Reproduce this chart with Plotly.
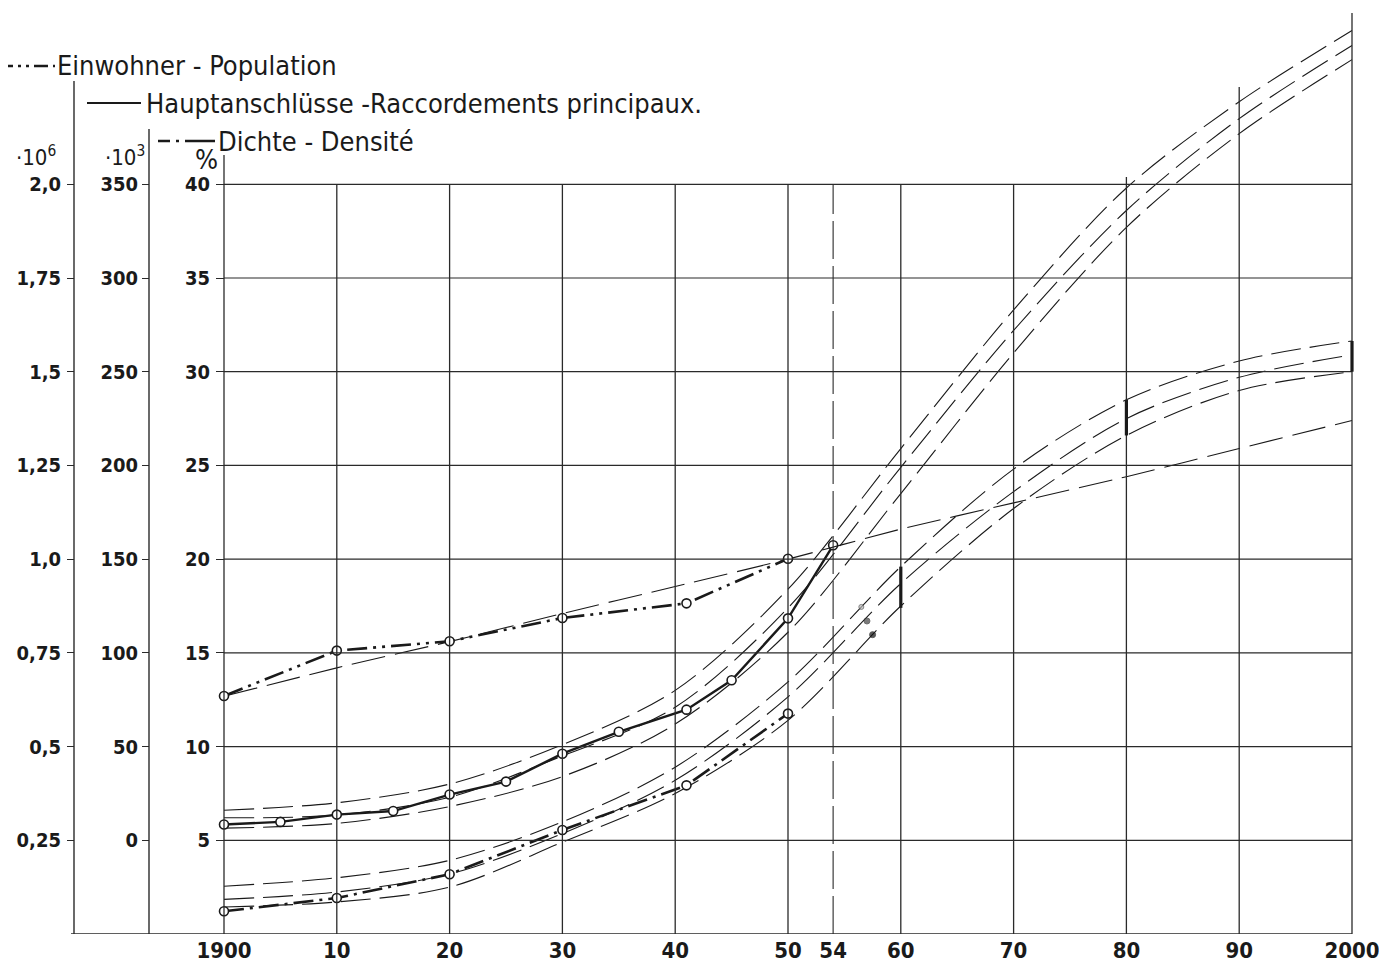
import plotly.graph_objects as go

# ---------------- data ----------------
# observed values
pop_years = [1900, 1910, 1920, 1930, 1941, 1950]
pop_millions = [0.635, 0.756, 0.781, 0.843, 0.882, 1.001]

conn_years = [1900, 1905, 1910, 1915, 1920, 1925, 1930, 1935, 1941, 1945, 1950, 1954]
conn_thousands = [8.4, 9.8, 13.7, 15.6, 24.4, 31.3, 46.2, 57.9, 69.7, 85.4, 118.4, 157.4]

dens_years = [1900, 1910, 1920, 1930, 1941, 1950]
dens_percent = [1.21, 1.92, 3.19, 5.55, 7.93, 11.76]

# extrapolation curves
proj_years = [1900, 1910, 1920, 1930, 1940, 1950, 1960, 1970, 1980, 1990, 2000]
pop_trend = [0.634, 0.71, 0.78, 0.855, 0.927, 1.0, 1.08, 1.15, 1.22, 1.295, 1.37]
conn_upper = [16, 20, 30, 51, 80, 134, 209, 283, 348, 394, 432]
conn_mid = [12, 13.5, 23, 45, 71, 124, 199, 272, 336, 385, 424]
conn_lower = [6.5, 9, 18, 34, 62, 111, 185, 260, 327, 377, 416.5]
dens_upper = [2.55, 3.0, 3.93, 5.98, 8.9, 13.45, 19.6, 24.8, 28.5, 30.57, 31.64]
dens_mid = [1.85, 2.24, 3.2, 5.36, 8.2, 12.65, 18.7, 23.6, 27.5, 29.7, 30.9]
dens_lower = [1.44, 1.71, 2.5, 4.9, 7.5, 11.4, 17.5, 22.7, 26.6, 29.0, 30.0]

# range bars of density forecast
bar_years = [1960, 1980, 2000]
bar_low = [17.4, 26.6, 30.0]
bar_high = [19.6, 28.5, 31.64]

# isolated small points
dot_years = [1956.5, 1957.0, 1957.5]
dot_values = [17.45, 16.7, 15.97]

# axis ticks
x_tickvals = [1900, 1910, 1920, 1930, 1940, 1950, 1954, 1960, 1970, 1980, 1990, 2000]
x_ticktext = ["1900", "10", "20", "30", "40", "50", "54", "60", "70", "80", "90", "2000"]
pct_ticks = [5, 10, 15, 20, 25, 30, 35, 40]
thou_ticks = [0, 50, 100, 150, 200, 250, 300, 350]
mil_ticks = [0.25, 0.5, 0.75, 1.0, 1.25, 1.5, 1.75, 2.0]
mil_ticktext = ["0,25", "0,5", "0,75", "1,0", "1,25", "1,5", "1,75", "2,0"]

# ---------------- geometry ----------------
W, H = 1379, 964
MB = 30
PLOT_H = H - MB
PX_PER_YEAR = 11.28
X0_PX = 224
PX_PER_PCT = 18.743
Y_TOP = PLOT_H / PX_PER_PCT
X_RANGE = [1900 - X0_PX / PX_PER_YEAR, 1900 + (W - X0_PX) / PX_PER_YEAR]

INK = "#1a1a1a"
GRID = "#2a2a2a"
FONT_AX = "DejaVu Sans Condensed, Liberation Sans Narrow, DejaVu Sans, sans-serif"


def px(xp):
    return xp / W


def py(yp):
    return (PLOT_H - yp) / PLOT_H


fig = go.Figure()

proj_style = dict(color=INK, width=1.1, dash="30px,9px", shape="spline", smoothing=0.9)

for ys in (conn_upper, conn_mid, conn_lower):
    fig.add_trace(go.Scatter(x=proj_years, y=ys, yaxis="y2", mode="lines",
                             line=proj_style, hoverinfo="skip", showlegend=False))
for ys in (dens_upper, dens_mid, dens_lower):
    fig.add_trace(go.Scatter(x=proj_years, y=ys, yaxis="y", mode="lines",
                             line=proj_style, hoverinfo="skip", showlegend=False))
fig.add_trace(go.Scatter(x=proj_years, y=pop_trend, yaxis="y3", mode="lines",
                         line=dict(color=INK, width=1.1, dash="34px,10px", shape="spline", smoothing=0.6),
                         hoverinfo="skip", showlegend=False))

marker = dict(symbol="circle", size=9, color="white", line=dict(color=INK, width=1.6))

fig.add_trace(go.Scatter(x=pop_years, y=pop_millions, yaxis="y3", mode="lines+markers",
                         line=dict(color=INK, width=2.6, dash="20px,6px,3px,6px,3px,6px"),
                         marker=marker, name="Einwohner - Population", showlegend=False))
fig.add_trace(go.Scatter(x=conn_years, y=conn_thousands, yaxis="y2", mode="lines+markers",
                         line=dict(color=INK, width=2.4),
                         marker=marker, name="Hauptanschlüsse", showlegend=False))
fig.add_trace(go.Scatter(x=dens_years, y=dens_percent, yaxis="y", mode="lines+markers",
                         line=dict(color=INK, width=2.6, dash="20px,6px,3px,6px"),
                         marker=marker, name="Dichte", showlegend=False))

fig.add_trace(go.Scatter(x=dot_years, y=dot_values, yaxis="y", mode="markers",
                         marker=dict(size=[5, 6, 6], color=["#bbbbbb", "#444444", "#111111"],
                                     line=dict(color=["#555555", "#333333", "#111111"], width=1)),
                         hoverinfo="skip", showlegend=False))

shapes = []
# horizontal grid lines
for v in pct_ticks:
    shapes.append(dict(type="line", xref="x", yref="y", x0=1900, x1=2000, y0=v, y1=v,
                       line=dict(color=GRID, width=1.2)))
# vertical grid lines with their individual heights
vtops = {1900: 41.56, 1910: 40, 1920: 40, 1930: 40, 1940: 40, 1950: 40, 1960: 40,
         1970: 40, 1980: 40.39, 1990: 45.19, 2000: 49.14}
for xv, top in vtops.items():
    shapes.append(dict(type="line", xref="x", yref="y", x0=xv, x1=xv, y0=0, y1=top,
                       line=dict(color=GRID, width=1.3)))
shapes.append(dict(type="line", xref="x", yref="y", x0=1954, x1=1954, y0=0, y1=40,
                   line=dict(color=GRID, width=1.1, dash="38px,7px")))
# left axis lines
shapes.append(dict(type="line", xref="paper", yref="y", x0=px(74), x1=px(74), y0=0,
                   y1=(PLOT_H - 81) / PX_PER_PCT, line=dict(color=GRID, width=1.4)))
shapes.append(dict(type="line", xref="paper", yref="y", x0=px(149), x1=px(149), y0=0,
                   y1=(PLOT_H - 129) / PX_PER_PCT, line=dict(color=GRID, width=1.4)))
# baseline
shapes.append(dict(type="line", xref="paper", yref="y", x0=px(71), x1=px(1352), y0=0, y1=0,
                   line=dict(color=GRID, width=1.6)))
# range bars
for xb, lo, hi in zip(bar_years, bar_low, bar_high):
    shapes.append(dict(type="line", xref="x", yref="y", x0=xb, x1=xb, y0=lo, y1=hi,
                       line=dict(color=INK, width=3.2)))

# legend samples
shapes.append(dict(type="line", xref="paper", yref="paper", x0=px(8), x1=px(55),
                   y0=py(66), y1=py(66), line=dict(color=INK, width=2.4, dash="5px,5px,3px,5px,3px,5px,14px")))
shapes.append(dict(type="line", xref="paper", yref="paper", x0=px(87), x1=px(141),
                   y0=py(103), y1=py(103), line=dict(color=INK, width=2.2)))
shapes.append(dict(type="line", xref="paper", yref="paper", x0=px(158), x1=px(215),
                   y0=py(141), y1=py(141), line=dict(color=INK, width=2.4, dash="12px,6px,3px,6px,30px")))

LEG = 27
annotations = [
    dict(text="Einwohner - Population", x=px(55), y=py(66), xanchor="left", yanchor="middle", size=LEG),
    dict(text="Hauptanschlüsse -Raccordements principaux.", x=px(144), y=py(103), xanchor="left",
         yanchor="middle", size=LEG),
    dict(text="Dichte - Densité", x=px(216), y=py(141), xanchor="left", yanchor="middle", size=LEG),
    dict(text="·10<sup>6</sup>", x=px(36), y=py(156), xanchor="center", yanchor="middle", size=22),
    dict(text="·10<sup>3</sup>", x=px(125), y=py(156), xanchor="center", yanchor="middle", size=22),
    dict(text="%", x=px(206), y=py(160), xanchor="center", yanchor="middle", size=27),
]
for a in annotations:
    s = a.pop("size")
    a.update(xref="paper", yref="paper", showarrow=False,
             font=dict(family=FONT_AX, size=s, color=INK))

tickfont = dict(family=FONT_AX, size=20, color=INK, weight="bold")

fig.update_layout(
    width=W, height=H,
    margin=dict(l=0, r=0, t=0, b=MB),
    paper_bgcolor="white", plot_bgcolor="white",
    shapes=shapes, annotations=annotations,
    showlegend=False,
    xaxis=dict(range=X_RANGE, showgrid=False, zeroline=False, showline=False,
               tickmode="array", tickvals=x_tickvals, ticktext=x_ticktext, ticks="",
               tickfont=dict(family=FONT_AX, size=22, color=INK, weight="bold"),
               ticklabelstandoff=1, ticklabeloverflow="allow"),
    yaxis=dict(range=[0, Y_TOP], anchor="free", position=px(224), showgrid=False,
               zeroline=False, showline=False, tickmode="array", tickvals=pct_ticks,
               ticks="outside", ticklen=8, tickwidth=1.2, tickcolor=GRID,
               tickfont=tickfont, ticklabelstandoff=2),
    yaxis2=dict(range=[(0 - 5) * 10, (Y_TOP - 5) * 10], overlaying="y", anchor="free",
                position=px(149), side="left", showgrid=False, zeroline=False, showline=False,
                tickmode="array", tickvals=thou_ticks, ticks="outside", ticklen=7,
                tickwidth=1.2, tickcolor=GRID, tickfont=tickfont, ticklabelstandoff=0),
    yaxis3=dict(range=[0, Y_TOP / 20], overlaying="y", anchor="free",
                position=px(74), side="left", showgrid=False, zeroline=False, showline=False,
                tickmode="array", tickvals=mil_ticks, ticktext=mil_ticktext, ticks="outside",
                ticklen=7, tickwidth=1.2, tickcolor=GRID, tickfont=tickfont, ticklabelstandoff=2),
)

fig.write_html("out.html", config={"displayModeBar": False},
               post_script="document.body.style.margin='0';document.body.style.overflow='hidden';")
